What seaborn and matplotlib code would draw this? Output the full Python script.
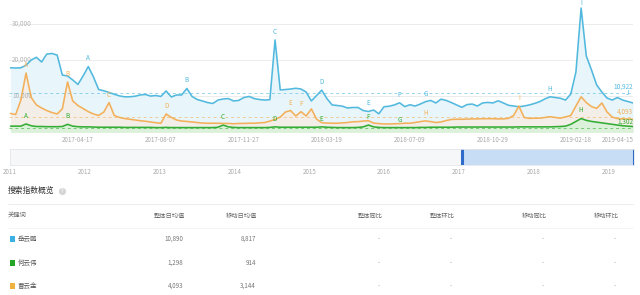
import numpy as np
import pandas as pd
import matplotlib
matplotlib.use("Agg")
import matplotlib.pyplot as plt
import matplotlib.dates as mdates
import matplotlib.transforms as mtransforms
import seaborn as sns

# ---------------- data ----------------
start_date = "2017-01-16"
n_weeks = 121
keywords = ["岳云鹏", "何云伟", "曹云金"]

blue_vals = [17800, 17750, 17800, 18500, 19950, 20700, 19400, 21600, 21750, 21300,
             15800, 15550, 14450, 13200, 15550, 18150, 15250, 11800, 11450, 11000,
             10500, 10050, 9800, 9800, 9950, 10300, 10450, 10000, 10150, 9900,
             11400, 9750, 10300, 10300, 12100, 9900, 9050, 8650, 8200, 7950,
             8900, 9200, 9300, 8650, 8800, 9600, 9900, 9300, 9050, 8900,
             9000, 25500, 11700, 11800, 11950, 12150, 11950, 11100, 8650, 10150,
             11650, 9300, 7550, 7400, 7200, 6700, 6850, 6850, 6000, 5750,
             6150, 5100, 7050, 7200, 7550, 8150, 7100, 7600, 7250, 7800,
             8450, 8800, 8100, 9150, 8800, 8200, 7550, 6900, 7650, 7800,
             7250, 8100, 8250, 8100, 8700, 8100, 7450, 7250, 7050, 7250,
             7550, 7950, 8450, 9200, 9800, 9600, 9400, 8900, 10550, 16650,
             34300, 21050, 17200, 13050, 11100, 9450, 8900, 9600, 8900, 8500, 8100]

orange_vals = [5200, 4900, 8900, 16350, 9600, 7550, 6700, 6000, 5450, 5050,
               6500, 13900, 8650, 7400, 6550, 5700, 5050, 4650, 5600, 8200,
               4650, 4100, 3800, 3600, 3400, 3200, 3050, 2850, 2650, 2500,
               5050, 4100, 3400, 3100, 3000, 2850, 2700, 2550, 2500, 2500,
               2500, 2450, 2450, 2350, 2450, 2450, 2500, 2500, 2600, 2700,
               3100, 3550, 4200, 5600, 6000, 4500, 5700, 4500, 6450, 3650,
               2650, 2550, 2500, 2500, 2600, 2700, 2900, 2950, 3100, 3200,
               2550, 2400, 2300, 2300, 2350, 2400, 2500, 2500, 2700, 2950,
               3150, 2950, 2700, 2850, 3250, 3550, 3600, 3600, 3650, 3700,
               3700, 3750, 3750, 3750, 3700, 3700, 3850, 4650, 7250, 4100,
               3850, 3900, 3900, 4100, 4300, 4100, 3900, 4250, 4650, 7250,
               9800, 8200, 7100, 6600, 8100, 5600, 4200, 3800, 3700, 3650, 3600]

green_vals = [1700, 1700, 1700, 2300, 1800, 1600, 1600, 1550, 1550, 1550,
              1600, 2200, 1700, 1550, 1500, 1500, 1450, 1400, 1400, 1400,
              1400, 1400, 1350, 1350, 1350, 1350, 1350, 1350, 1300, 1300,
              1350, 1300, 1300, 1300, 1300, 1300, 1300, 1300, 1300, 1300,
              1400, 2000, 1500, 1350, 1300, 1300, 1300, 1300, 1300, 1300,
              1350, 1500, 1400, 1400, 1400, 1400, 1400, 1400, 1400, 1400,
              1500, 1400, 1350, 1300, 1300, 1300, 1300, 1350, 1500, 2000,
              1500, 1350, 1300, 1300, 1300, 1300, 1300, 1300, 1300, 1350,
              1350, 1400, 1400, 1400, 1400, 1400, 1450, 1450, 1450, 1450,
              1450, 1450, 1450, 1450, 1450, 1450, 1450, 1450, 1500, 1500,
              1500, 1500, 1500, 1500, 1500, 1550, 1600, 1700, 2200, 3000,
              3800, 3300, 3000, 2800, 2600, 2400, 2200, 2000, 1800, 1700, 1600]

avg_values = [10922, 1302, 4093]
avg_labels = ["10,922", "1,302", "4,093"]

blue_letters = ["A", "B", "C", "D", "E", "F", "G", "H", "I", "J"]
blue_letter_idx = [15, 34, 51, 60, 69, 75, 80, 104, 110, 119]
orange_letters = ["A", "B", "C", "D", "E", "F", "H", "I"]
orange_letter_idx = [3, 11, 19, 30, 54, 56, 80, 98]
green_letters = ["A", "B", "C", "D", "E", "F", "G", "H"]
green_letter_idx = [3, 11, 41, 51, 60, 69, 75, 110]

xtick_dates = ["2017-04-17", "2017-08-07", "2017-11-27", "2018-03-19",
               "2018-07-09", "2018-10-29", "2019-02-18", "2019-04-15"]
view_start, view_end = "2017-01-14", "2019-05-06"
nav_start = "2011-01-01"
nav_years = ["2011", "2012", "2013", "2014", "2015", "2016", "2017", "2018", "2019"]

table_header = ["关键词", "整体日均值", "移动日均值", "整体同比", "整体环比", "移动同比", "移动环比"]
table_overall = ["10,890", "1,298", "4,093"]
table_mobile = ["8,817", "914", "3,144"]

colors = {"岳云鹏": "#52b9de", "何云伟": "#33ad33", "曹云金": "#f3b05a"}
fill_colors = {"岳云鹏": "#e6f4fa", "何云伟": "#d9f2d9", "曹云金": "#f5eee6"}
swatch_colors = {"岳云鹏": "#3cb0e2", "何云伟": "#25a525", "曹云金": "#f0b23e"}

# ---------------- figure ----------------
sns.set_theme(style="white")
plt.rcParams["font.family"] = ["Noto Sans CJK SC", "DejaVu Sans"]

W, H = 640, 295
fig = plt.figure(figsize=(W / 100, H / 100), dpi=100)
fig.patch.set_facecolor("white")


def fx(x):
    return x / W


def fy(y):
    return 1 - y / H


dates = pd.date_range(start_date, periods=n_weeks, freq="7D")
df = pd.DataFrame({
    "date": np.tile(dates, 3),
    "value": blue_vals + green_vals + orange_vals,
    "kw": np.repeat(keywords, n_weeks),
})

plot_top, plot_bottom = 0.0, 132.3
ax = fig.add_axes([fx(9), fy(plot_bottom), fx(633) - fx(9), (plot_bottom - plot_top) / H])
ax.set_facecolor("white")

series = {"岳云鹏": blue_vals, "何云伟": green_vals, "曹云金": orange_vals}
for kw in ["岳云鹏", "曹云金", "何云伟"]:
    ax.fill_between(dates, series[kw], 0, color=fill_colors[kw], alpha=0.9, lw=0, zorder=1)

sns.lineplot(data=df, x="date", y="value", hue="kw", palette=colors, ax=ax,
             legend=False, linewidth=1.15, zorder=3)

ax.set_xlim(mdates.datestr2num(view_start), mdates.datestr2num(view_end))
ymax = 36515
ax.set_ylim(0, ymax)

for v in [10000, 20000, 30000]:
    ax.axhline(v, color="#ececec", lw=0.7, zorder=0.5)
for v, lab in zip([10000, 20000, 30000], ["10,000", "20,000", "30,000"]):
    ax.text(0.005, v, lab, transform=mtransforms.blended_transform_factory(ax.transAxes, ax.transData),
            ha="left", va="center", fontsize=4.6, color="#b5b5b5", zorder=2)

# average lines + labels
trans_r = mtransforms.blended_transform_factory(ax.transAxes, ax.transData)
for kw, v, lab in zip(keywords, avg_values, avg_labels):
    ax.axhline(v, color=colors[kw], lw=0.7, ls=(0, (3, 3)), alpha=0.6, zorder=2)
    ax.annotate(lab, xy=(1.0, v), xycoords=trans_r, xytext=(0, 1.5), textcoords="offset points",
                ha="right", va="bottom", fontsize=4.6, color=colors[kw], zorder=5)

# event letters
for kw, letters, idxs in [("岳云鹏", blue_letters, blue_letter_idx),
                          ("曹云金", orange_letters, orange_letter_idx),
                          ("何云伟", green_letters, green_letter_idx)]:
    vals = series[kw]
    for let, i in zip(letters, idxs):
        off = 5.8 if vals[i] < 0.9 * ymax else 3.6
        ax.annotate(let, xy=(dates[i], vals[i]), xytext=(0, off), textcoords="offset points",
                    ha="center", va="center", fontsize=4.6, color=colors[kw],
                    annotation_clip=False, zorder=6)

ax.set_xticks(mdates.datestr2num(xtick_dates))
ax.set_xticklabels(xtick_dates)
ax.tick_params(axis="x", length=0, pad=3, labelsize=4.5, labelcolor="#aaaaaa")
ax.set_yticks([])
ax.set_xlabel("")
ax.set_ylabel("")
for s in ax.spines.values():
    s.set_visible(False)

# ---------------- navigator ----------------
nav = fig.add_axes([fx(10), fy(165), fx(634) - fx(10), 16 / H])
nav.set_facecolor("#f6f7f9")
nav.set_xlim(mdates.datestr2num(nav_start), mdates.datestr2num(view_end))
nav.set_ylim(0, 1)
nav.axvspan(mdates.datestr2num(view_start), mdates.datestr2num(view_end), color="#c7ddf6", lw=0)
for d in [view_start, view_end]:
    nav.axvline(mdates.datestr2num(d), color="#2f6bc8", lw=2.2)
nav.set_yticks([])
nav.set_xticks(mdates.datestr2num([y + "-01-01" for y in nav_years]))
nav.set_xticklabels(nav_years)
nav.tick_params(axis="x", length=0, pad=2.5, labelsize=4.5, labelcolor="#aaaaaa")
for s in nav.spines.values():
    s.set_color("#e4e6ea")
    s.set_linewidth(0.6)

# ---------------- summary table ----------------
fig.text(fx(8), fy(191), "搜索指数概览", ha="left", va="center", fontsize=5.6, color="#333333")
fig.add_artist(plt.Line2D([fx(62)], [fy(191)], transform=fig.transFigure, marker="o",
                          markersize=5.2, markerfacecolor="#d6d6d6", markeredgecolor="none", lw=0))
fig.text(fx(62), fy(191), "?", ha="center", va="center", fontsize=3.6, color="white",
         family=["DejaVu Sans"])
fig.add_artist(plt.Line2D([fx(8), fx(633)], [fy(204), fy(204)], transform=fig.transFigure,
                          color="#eeeeee", lw=0.8))
fig.add_artist(plt.Line2D([fx(8), fx(633)], [fy(228), fy(228)], transform=fig.transFigure,
                          color="#f3f3f3", lw=0.6))

col_right = [None, 185, 257, 383, 455, 547, 619]
hy = 216
fig.text(fx(8), fy(hy), table_header[0], ha="left", va="center", fontsize=4.5, color="#666666")
for h, xr in zip(table_header[1:], col_right[1:]):
    fig.text(fx(xr), fy(hy), h, ha="right", va="center", fontsize=4.5, color="#666666")

row_y = [239, 263, 286]
for kw, ov, mv, ry in zip(keywords, table_overall, table_mobile, row_y):
    fig.add_artist(plt.Rectangle((fx(10), fy(ry + 2.6)), 5.2 / W, 5.2 / H, transform=fig.transFigure,
                                 facecolor=swatch_colors[kw], edgecolor="none"))
    fig.text(fx(18), fy(ry), kw, ha="left", va="center", fontsize=4.7, color="#555555")
    fig.text(fx(183), fy(ry), ov, ha="right", va="center", fontsize=4.5, color="#777777")
    fig.text(fx(256), fy(ry), mv, ha="right", va="center", fontsize=4.5, color="#777777")
    for xr in col_right[3:]:
        fig.text(fx(xr - 4), fy(ry), "-", ha="center", va="center", fontsize=4.5, color="#aaaaaa")

fig.savefig("out.png", dpi=100, facecolor="white")
